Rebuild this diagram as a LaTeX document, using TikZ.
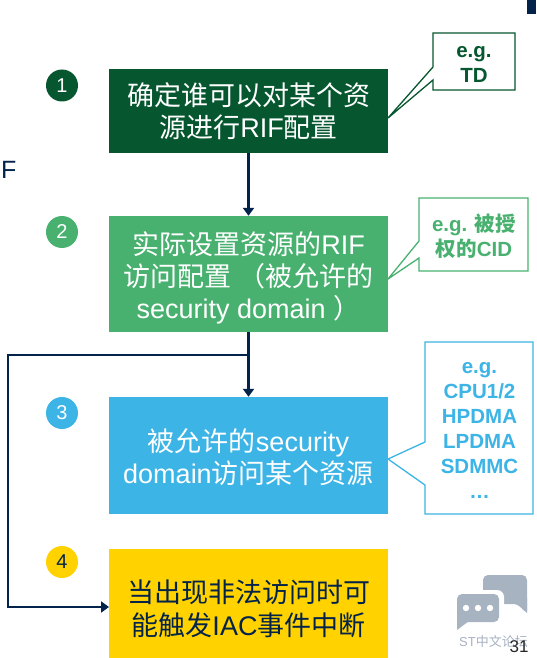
\documentclass[tikz,border=0pt]{standalone}
\usepackage{fontspec}
\setmainfont{Liberation Sans}
\newfontfamily\cjk{Noto Sans CJK SC}
\newcommand{\zh}[1]{{\cjk #1}}
\usetikzlibrary{arrows.meta,calc}
\definecolor{navy}{HTML}{03234B}
\definecolor{dgreen}{HTML}{06572F}
\definecolor{lgreen}{HTML}{49B170}
\definecolor{sky}{HTML}{3CB4E6}
\definecolor{amber}{HTML}{FFD200}
\definecolor{icon}{HTML}{A8B3C2}
\tikzset{
  x=1pt,y=-1pt,
  stepbox/.style={minimum width=279pt,inner sep=0pt,align=center,font=\fontsize{27}{32}\selectfont,text=white},
  badge/.style={circle,minimum size=32pt,inner sep=0pt,font=\fontsize{20}{24}\selectfont,text=white},
  callout/.style={line width=1.3pt,fill=white},
  calltext/.style={inner sep=0pt,align=center,font=\fontsize{20.5}{25}\selectfont\bfseries},
  flow/.style={navy,line width=2.6pt,-{Triangle[length=8pt,width=11pt]}}
}
\begin{document}
\begin{tikzpicture}
\useasboundingbox (0,0) rectangle (536,658);
\fill[white] (0,0) rectangle (536,658);
\fill[navy] (527,0) rectangle (536,14);
\node[anchor=west,inner sep=0pt,text=navy,font=\fontsize{25}{30}\selectfont] (f) at (1,170) {F};

% callouts
\draw[callout,draw=dgreen] (433,33)--(515,33)--(515,90)--(433,90)--(433,80)--(388,118)--(433,67)--cycle;
\node[calltext,text=dgreen] (c1) at (474,64.5) {e.g.\\TD};
\draw[callout,draw=lgreen] (419,198)--(528,198)--(528,271)--(419,271)--(419,258)--(388,279)--(419,241)--cycle;
\node[calltext,text=lgreen] (c2) at (474,236) {e.g. \zh{被授}\\\zh{权的}CID};
\draw[callout,draw=sky] (425,342)--(533,342)--(533,514)--(425,514)--(425,485)--(388,459)--(425,442)--cycle;
\node[calltext,text=sky] (c3) at (479.5,430.5) {e.g.\\CPU1/2\\HPDMA\\LPDMA\\SDMMC\\…};

% boxes
\node[stepbox,fill=dgreen,minimum height=83pt] (b1) at (248.5,111) {\zh{确定谁可以对某个资}\\\zh{源进行}RIF\zh{配置}};
\node[stepbox,fill=lgreen,minimum height=116pt] (b2) at (248.5,274) {\rule{0pt}{30pt}\zh{实际设置资源的}RIF\\\zh{访问配置 （被允许的}\\security domain \zh{）}};
\node[stepbox,fill=sky,minimum height=117pt] (b3) at (248.5,455.5) {\rule{0pt}{26pt}\zh{被允许的}security\\domain\zh{访问某个资源}};
\node[stepbox,fill=amber,minimum height=109pt,text=navy] (b4) at (248.5,603.5) {\rule{0pt}{33pt}\zh{当出现非法访问时可}\\[1pt]\zh{能触发}IAC\zh{事件中断}};

% badges
\node[badge,fill=dgreen] (n1) at (62,85.5) {1};
\node[badge,fill=lgreen] (n2) at (62,232) {2};
\node[badge,fill=sky] (n3) at (62,413) {3};
\node[badge,fill=amber,text=navy] (n4) at (62,562) {4};

% connectors
\draw[flow] (b1.south) -- (b2.north);
\draw[flow] (b2.south) -- (b3.north);
\coordinate (branch) at (248.5,355);
\coordinate (left) at (8,355);
\coordinate (entry) at (109,607);
\draw[flow] (branch) -- (left) -- (left |- entry) -- (entry);

% watermark icon
\fill[icon,rounded corners=5pt] (483,600) -- (483,575) -- (527,575) -- (527,606) -- (527,614) -- (527,614) -- (518,604) -- (483,604) -- cycle;
\fill[icon] (527,598) -- (527,613) -- (516,603) -- cycle;
\fill[white,rounded corners=7pt] (453,590) rectangle (504,626);
\fill[white] (453,620) -- (504,620) -- (504,626) -- (453,634) -- cycle;
\fill[icon,rounded corners=5pt] (457,594) rectangle (499,622);
\fill[icon] (457,612) -- (457,630) -- (469,621) -- cycle;
\foreach \px in {466,478,490} \fill[white] (\px,608) circle (3.2pt);
\node[anchor=west,inner sep=0pt,text=icon,font=\fontsize{13}{15}\selectfont] (wm) at (459,642) {ST\zh{中文论坛}};
\node[anchor=center,inner sep=0pt,text=black!85,font=\fontsize{17}{20}\selectfont] (pg) at (519,647) {31};
\end{tikzpicture}
\end{document}
